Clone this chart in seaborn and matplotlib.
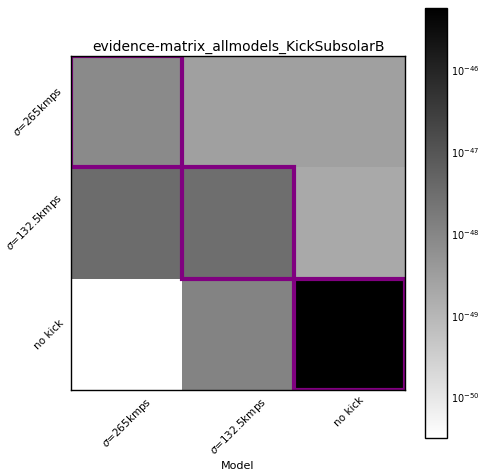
import numpy as np
import pandas as pd
import seaborn as sns
import matplotlib.pyplot as plt
from matplotlib.colors import LogNorm
from matplotlib.patches import Rectangle

# evidence values (rows = data, cols = model)
models = [r"$\sigma$=265kmps", r"$\sigma$=132.5kmps", "no kick"]
row_265 = [8.1e-49, 2.9e-49, 2.9e-49]
row_132 = [3.4e-48, 3.1e-48, 1.95e-49]
row_nokick = [3.2e-51, 1.15e-48, 5.8e-46]

evidence = pd.DataFrame([row_265, row_132, row_nokick], index=models, columns=models)

sns.set_style("white")
plt.rcParams["font.family"] = ["DejaVu Sans"]
plt.rcParams["font.size"] = 8
for k in ["text.color", "axes.labelcolor", "xtick.color", "ytick.color"]:
    plt.rcParams[k] = "black"

fig = plt.figure(figsize=(4.8, 4.73), dpi=100)
ax = fig.add_axes([0.148, 0.1755, 0.696, 0.706])
cax = fig.add_axes([0.885, 0.074, 0.046, 0.909])

sns.heatmap(evidence, ax=ax, cbar_ax=cax, cmap="gray_r", norm=LogNorm())

# put the frame back, seaborn strips it
for sp in ax.spines.values():
    sp.set_visible(True)
    sp.set_color("black")
    sp.set_linewidth(1)
cb = ax.collections[0].colorbar
cb.outline.set_linewidth(1)
cb.outline.set_edgecolor("black")
cb.ax.minorticks_off()
cb.ax.tick_params(direction="in", length=4, labelsize=7, pad=3)

# highlight the diagonal
for i in range(len(models)):
    ax.add_patch(Rectangle((i, i), 1, 1, fill=False, edgecolor="purple", lw=3, clip_on=True))

ax.tick_params(direction="in", length=4, top=True, right=True, labelsize=7.5)
ax.set_xticklabels(models, rotation=45, ha="center")
ax.set_yticklabels(models, rotation=45, ha="right", va="center")
ax.set_xlabel("Model", fontsize=8, va="center")
ax.xaxis.set_label_coords(0.5, -0.2275)
ax.set_ylabel("")
ax.set_title("evidence-matrix_allmodels_KickSubsolarB", fontsize=10, pad=4)

plt.savefig("out.png", dpi=100)
